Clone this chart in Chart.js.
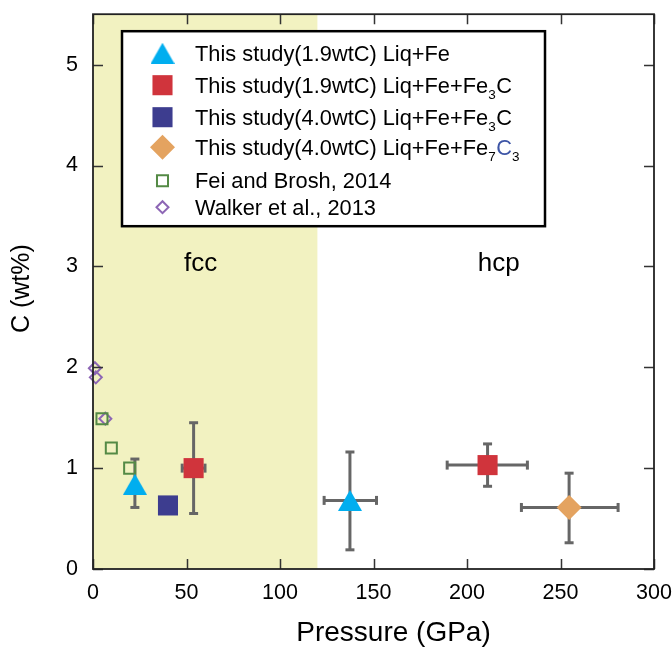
<!DOCTYPE html>
<html>
<head>
<meta charset="utf-8">
<script src="https://cdn.jsdelivr.net/npm/chart.js@4.4.1/dist/chart.umd.min.js"></script>
<style>
  html, body { margin: 0; padding: 0; background: #fff; }
  #wrap { width: 672px; height: 649px; }
</style>
</head>
<body>
<div id="wrap"><canvas id="carbonCanvas" width="672" height="649"></canvas></div>
<script>
// ---- values ----
const xTicks = [0, 50, 100, 150, 200, 250, 300];
const yTicks = [0, 1, 2, 3, 4, 5];

// This study (1.9wtC) Liq+Fe
const triP   = [22.4, 137.4];
const triC   = [0.84, 0.68];
const triPLo = [null, 123.6];
const triPHi = [null, 151.6];
const triCLo = [0.61, 0.19];
const triCHi = [1.09, 1.16];

// This study (1.9wtC) Liq+Fe+Fe3C
const redP   = [53.8, 211.0];
const redC   = [1.00, 1.03];
const redPLo = [47.7, 189.4];
const redPHi = [59.9, 232.3];
const redCLo = [0.55, 0.82];
const redCHi = [1.45, 1.24];

// This study (4.0wtC) Liq+Fe+Fe3C
const navyP = [40.1];
const navyC = [0.63];

// This study (4.0wtC) Liq+Fe+Fe7C3
const orgP   = [254.6];
const orgC   = [0.61];
const orgPLo = [229.1];
const orgPHi = [280.8];
const orgCLo = [0.26];
const orgCHi = [0.95];

// Fei and Brosh, 2014
const feiP = [4.8, 9.8, 19.6];
const feiC = [1.49, 1.20, 1.00];

// Walker et al., 2013
const walkP = [1.0, 1.5, 6.6];
const walkC = [1.99, 1.90, 1.49];

// fcc / hcp stability fields
const fccEnd = 120;
const phaseNames = ["fcc", "hcp"];
const phaseP = [57.6, 217];
const phaseC = [2.95, 2.95];

// legend text: _x = subscript, ~x = blue character
const legendLabels = [
  "This study(1.9wtC) Liq+Fe",
  "This study(1.9wtC) Liq+Fe+Fe_3C",
  "This study(4.0wtC) Liq+Fe+Fe_3C",
  "This study(4.0wtC) Liq+Fe+Fe_7~C_3",
  "Fei and Brosh, 2014",
  "Walker et al., 2013"
];

const FONT = "'Liberation Sans', Arial, Helvetica, sans-serif";
Chart.defaults.font.family = FONT;

// centred triangle marker (Chart.js 'triangle' is centred on its circumcentre)
const triImg = document.createElement("canvas");
triImg.width = 24;
triImg.height = 21;
(function () {
  const c = triImg.getContext("2d");
  c.fillStyle = "#00aeef";
  c.beginPath();
  c.moveTo(0, 21);
  c.lineTo(12, 0);
  c.lineTo(24, 21);
  c.closePath();
  c.fill();
})();

const pts = (px, cy) => px.map((v, i) => ({ x: v, y: cy[i] }));

const datasets = [
  { label: legendLabels[0], data: pts(triP, triC), pointStyle: triImg, pointRadius: 12,
    backgroundColor: "#00aeef", borderWidth: 0,
    err: { xLo: triPLo, xHi: triPHi, yLo: triCLo, yHi: triCHi } },
  { label: legendLabels[1], data: pts(redP, redC), pointStyle: "rect", pointRadius: 14.2,
    backgroundColor: "#d0343c", borderWidth: 0,
    err: { xLo: redPLo, xHi: redPHi, yLo: redCLo, yHi: redCHi } },
  { label: legendLabels[2], data: pts(navyP, navyC), pointStyle: "rect", pointRadius: 14.2,
    backgroundColor: "#3d3d8f", borderWidth: 0 },
  { label: legendLabels[3], data: pts(orgP, orgC), pointStyle: "rectRot", pointRadius: 12.5,
    backgroundColor: "#e4a360", borderWidth: 0,
    err: { xLo: orgPLo, xHi: orgPHi, yLo: orgCLo, yHi: orgCHi } },
  { label: legendLabels[4], data: pts(feiP, feiC), pointStyle: "rect", pointRadius: 7.8,
    backgroundColor: "rgba(0,0,0,0)", borderColor: "#548a45", borderWidth: 2 },
  { label: legendLabels[5], data: pts(walkP, walkC), pointStyle: "rectRot", pointRadius: 6,
    backgroundColor: "rgba(0,0,0,0)", borderColor: "#8d66b5", borderWidth: 2 }
];
datasets.forEach(d => { d.clip = false; d.pointHoverRadius = d.pointRadius; });

// draw a legend line with subscripts / coloured characters
function drawRich(ctx, text, x, y) {
  const runs = [];
  for (let i = 0; i < text.length; i++) {
    let ch = text[i], kind = "n";
    if (ch === "_") { kind = "s"; ch = text[++i]; }
    else if (ch === "~") { kind = "b"; ch = text[++i]; }
    const last = runs[runs.length - 1];
    if (last && last.kind === kind) last.t += ch;
    else runs.push({ kind, t: ch });
  }
  let cx = x;
  runs.forEach(r => {
    ctx.font = (r.kind === "s" ? "13.5px " : "21.8px ") + FONT;
    ctx.fillStyle = r.kind === "b" ? "#3d55a6" : "#000";
    ctx.fillText(r.t, cx, r.kind === "s" ? y + 6.5 : y);
    cx += ctx.measureText(r.t).width + (r.kind === "s" ? 0.5 : 0);
  });
}

// no extra scale padding: the chart area is set by layout.padding
const noPad = s => { s.paddingTop = 0; s.paddingBottom = 0; s.paddingLeft = 0; s.paddingRight = 0; };

const decorations = {
  id: "decorations",
  beforeDatasetsDraw(chart) {
    const { ctx, chartArea: a, scales: { x, y } } = chart;
    ctx.save();
    // fcc field
    ctx.fillStyle = "#f2f2c1";
    ctx.fillRect(a.left, a.top, x.getPixelForValue(fccEnd) - a.left, a.bottom - a.top);

    // phase labels
    ctx.fillStyle = "#000";
    ctx.font = "26px " + FONT;
    ctx.textAlign = "center";
    ctx.textBaseline = "alphabetic";
    phaseNames.forEach((n, i) => ctx.fillText(n, x.getPixelForValue(phaseP[i]), y.getPixelForValue(phaseC[i])));

    // error bars
    ctx.strokeStyle = "#666";
    ctx.lineWidth = 3;
    ctx.lineCap = "butt";
    const cap = 4.5;
    const line = (x1, y1, x2, y2) => { ctx.beginPath(); ctx.moveTo(x1, y1); ctx.lineTo(x2, y2); ctx.stroke(); };
    chart.data.datasets.forEach(ds => {
      if (!ds.err) return;
      ds.data.forEach((p, i) => {
        const px = x.getPixelForValue(p.x), py = y.getPixelForValue(p.y);
        const e = ds.err;
        if (e.yLo[i] != null) {
          const y1 = y.getPixelForValue(e.yLo[i]), y2 = y.getPixelForValue(e.yHi[i]);
          line(px, y1, px, y2);
          line(px - cap, y1, px + cap, y1);
          line(px - cap, y2, px + cap, y2);
        }
        if (e.xLo[i] != null) {
          const x1 = x.getPixelForValue(e.xLo[i]), x2 = x.getPixelForValue(e.xHi[i]);
          line(x1, py, x2, py);
          line(x1, py - cap, x1, py + cap);
          line(x2, py - cap, x2, py + cap);
        }
      });
    });
    ctx.restore();
  },
  afterDatasetsDraw(chart) {
    const { ctx, chartArea: a, scales: { x, y } } = chart;
    ctx.save();
    // inward ticks on all four sides
    ctx.strokeStyle = "#333";
    ctx.lineWidth = 1.5;
    const tl = 10;
    ctx.beginPath();
    xTicks.forEach(v => {
      const px = Math.round(x.getPixelForValue(v)) + 0.5;
      ctx.moveTo(px, a.bottom); ctx.lineTo(px, a.bottom - tl);
      ctx.moveTo(px, a.top); ctx.lineTo(px, a.top + tl);
    });
    yTicks.forEach(v => {
      const py = Math.round(y.getPixelForValue(v)) + 0.5;
      ctx.moveTo(a.left, py); ctx.lineTo(a.left + tl, py);
      ctx.moveTo(a.right, py); ctx.lineTo(a.right - tl, py);
    });
    ctx.stroke();
    // frame
    ctx.strokeStyle = "#222";
    ctx.lineWidth = 1.8;
    ctx.strokeRect(a.left, a.top, a.right - a.left, a.bottom - a.top);
    ctx.restore();
  },
  afterDraw(chart) {
    const { ctx, chartArea: a } = chart;
    ctx.save();
    // axis titles
    ctx.fillStyle = "#000";
    ctx.textAlign = "center";
    ctx.textBaseline = "middle";
    ctx.font = "28px " + FONT;
    ctx.fillText("Pressure (GPa)", (a.left + a.right) / 2 + 20, 633);
    ctx.save();
    ctx.translate(22.5, (a.top + a.bottom) / 2 - 3);
    ctx.rotate(-Math.PI / 2);
    ctx.font = "25px " + FONT;
    ctx.fillText("C (wt%)", 0, 0);
    ctx.restore();

    // legend box
    const bx = a.left + 29, by = a.top + 17, bw = 423, bh = 195;
    ctx.fillStyle = "#fff";
    ctx.fillRect(bx, by, bw, bh);
    ctx.strokeStyle = "#000";
    ctx.lineWidth = 2.5;
    ctx.strokeRect(bx, by, bw, bh);

    const rows = [22, 54, 86, 116, 149.5, 176];
    ctx.textAlign = "left";
    ctx.textBaseline = "alphabetic";
    chart.data.datasets.forEach((ds, i) => {
      const cy = by + rows[i];
      const mx = bx + 40.5;
      ctx.fillStyle = ds.backgroundColor;
      ctx.strokeStyle = ds.borderColor || ds.backgroundColor;
      ctx.lineWidth = ds.borderWidth;
      Chart.helpers.drawPoint(ctx, {
        pointStyle: ds.pointStyle, radius: ds.pointRadius,
        borderWidth: ds.borderWidth, rotation: 0
      }, mx, cy);
      drawRich(ctx, ds.label, bx + 73, cy + 7.7);
    });
    ctx.restore();
  }
};

new Chart(document.getElementById("carbonCanvas"), {
  type: "scatter",
  data: { datasets },
  options: {
    responsive: false,
    animation: false,
    events: [],
    layout: { padding: { top: 7, right: 18, left: 0, bottom: 0 } },
    plugins: { legend: { display: false }, tooltip: { enabled: false } },
    scales: {
      x: {
        type: "linear", min: 0, max: 300,
        afterBuildTicks: s => { s.ticks = xTicks.map(v => ({ value: v })); },
        afterFit: s => { s.height = 80; noPad(s); },
        grid: { display: false, drawTicks: false },
        border: { display: false },
        ticks: { color: "#000", font: { size: 21.5 }, padding: 11, maxRotation: 0 }
      },
      y: {
        type: "linear", min: 0, max: 5.5,
        afterBuildTicks: s => { s.ticks = yTicks.map(v => ({ value: v })); },
        afterFit: s => { s.width = 93; noPad(s); },
        grid: { display: false, drawTicks: false },
        border: { display: false },
        ticks: { color: "#000", font: { size: 21.5 }, padding: 15 }
      }
    }
  },
  plugins: [decorations]
});
</script>
</body>
</html>
